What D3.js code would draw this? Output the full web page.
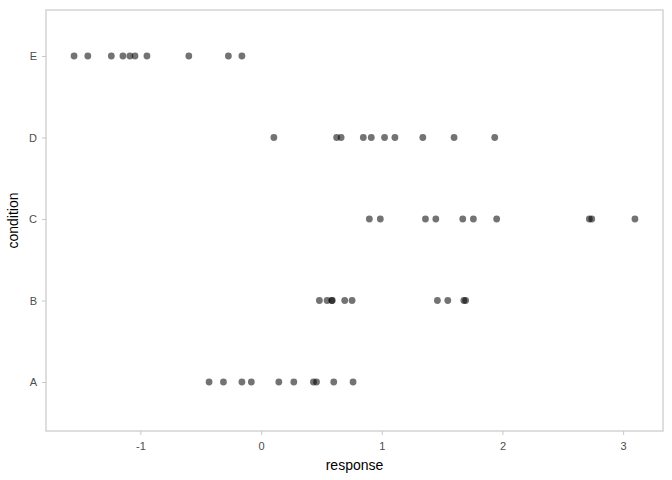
<!DOCTYPE html>
<html><head><meta charset="utf-8">
<script src="https://cdn.jsdelivr.net/npm/d3@7"></script>
<style>body{margin:0;background:#fff;} svg{display:block;} text{font-family:"Liberation Sans",Arial,sans-serif;}</style>
</head><body>
<svg id="chart" width="672" height="480"></svg>
<script>
const categories = ["A","B","C","D","E"];
const valuesA = [-0.431,-0.312,-0.159,-0.081,0.147,0.271,0.434,0.459,0.602,0.762];
const valuesB = [0.483,0.547,0.585,0.590,0.693,0.754,1.461,1.547,1.680,1.695];
const valuesC = [0.897,0.988,1.362,1.448,1.671,1.759,1.952,2.720,2.740,3.098];
const valuesD = [0.106,0.626,0.663,0.847,0.913,1.023,1.109,1.340,1.599,1.936];
const valuesE = [-1.550,-1.436,-1.241,-1.145,-1.087,-1.045,-0.946,-0.599,-0.271,-0.159];
const xTicks = [-1,0,1,2,3];
const xTitle = "response", yTitle = "condition";

const series = [valuesA,valuesB,valuesC,valuesD,valuesE];
const data = [];
categories.forEach((c,i)=>series[i].forEach(v=>data.push({cat:c,v:v})));

const svg = d3.select("#chart");
const pL=46, pR=663, pT=10, pB=431;
const all = data.map(d=>d.v);
const mn=d3.min(all), mx=d3.max(all), pad=(mx-mn)*0.05;
const x = d3.scaleLinear().domain([mn-pad,mx+pad]).range([pL,pR]);
const y = d3.scalePoint().domain(categories).range([pB-49,pT+46]).padding(0);

svg.append("rect").attr("x",pL).attr("y",pT).attr("width",pR-pL).attr("height",pB-pT)
  .attr("fill","#fff").attr("stroke","#d0d0d0").attr("stroke-width",1.4);

const xAxis = svg.append("g").attr("transform",`translate(0,${pB})`)
  .call(d3.axisBottom(x).tickValues(xTicks).tickSize(4).tickPadding(7).tickFormat(d=>String(d)));
const yAxis = svg.append("g").attr("transform",`translate(${pL},0)`)
  .call(d3.axisLeft(y).tickSize(4).tickPadding(5));
[xAxis,yAxis].forEach(g=>{
  g.select(".domain").remove();
  g.selectAll(".tick line").attr("stroke","#c8c8c8");
  g.selectAll(".tick text").attr("fill","#4d4d4d").style("font-size","11px").style("font-family","'Liberation Sans',Arial,sans-serif");
});

svg.append("g").selectAll("circle").data(data).join("circle")
  .attr("cx",d=>x(d.v)).attr("cy",d=>y(d.cat)).attr("r",3.4)
  .attr("fill","#000").attr("fill-opacity",0.55);

svg.append("text").attr("x",(pL+pR)/2).attr("y",470).attr("text-anchor","middle")
  .style("font-size","14px").attr("fill","#000").text(xTitle);
svg.append("text").attr("transform",`translate(18,${(pT+pB)/2}) rotate(-90)`).attr("text-anchor","middle")
  .style("font-size","14px").attr("fill","#000").text(yTitle);
</script>
</body></html>
